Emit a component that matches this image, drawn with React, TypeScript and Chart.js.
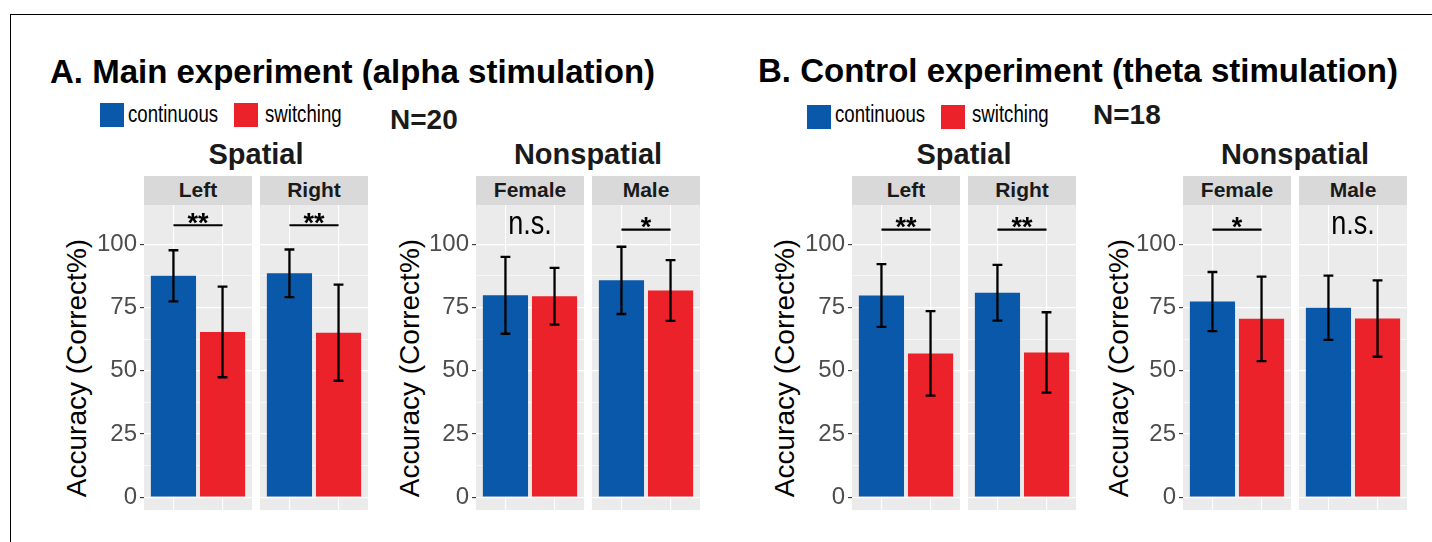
import React, { useEffect, useRef } from "react";
import { Chart, registerables } from "chart.js";

Chart.register(...registerables);

// ---------------- DATA ----------------
const conditions = ["continuous", "switching"];
const spatialFacets = ["Left", "Right"];
const nonspatialFacets = ["Female", "Male"];
const yMajorTicks = [0, 25, 50, 75, 100];
const yMinorTicks = [12.5, 37.5, 62.5, 87.5];

// A. Main experiment (alpha stimulation), N=20
const mainSpatialContinuous = [87.5, 88.5];
const mainSpatialContinuousSD = [10.1, 9.4];
const mainSpatialSwitching = [65.3, 65.0];
const mainSpatialSwitchingSD = [17.9, 19.0];
const mainSpatialSig = ["**", "**"];

const mainNonspatialContinuous = [79.8, 85.7];
const mainNonspatialContinuousSD = [15.2, 13.3];
const mainNonspatialSwitching = [79.4, 81.7];
const mainNonspatialSwitchingSD = [11.2, 12.0];
const mainNonspatialSig = ["n.s.", "*"];

// B. Control experiment (theta stimulation), N=18
const controlSpatialContinuous = [79.7, 80.8];
const controlSpatialContinuousSD = [12.4, 11.0];
const controlSpatialSwitching = [56.8, 57.2];
const controlSpatialSwitchingSD = [16.7, 15.9];
const controlSpatialSig = ["**", "**"];

const controlNonspatialContinuous = [77.3, 74.9];
const controlNonspatialContinuousSD = [11.7, 12.7];
const controlNonspatialSwitching = [70.5, 70.6];
const controlNonspatialSwitchingSD = [16.7, 15.1];
const controlNonspatialSig = ["*", "n.s."];

// ---------------- STYLE / LAYOUT ----------------
const FONT = '"Liberation Sans", Arial, Helvetica, sans-serif';
const BLUE = "#0A58A9";
const RED = "#EB2229";
const PANEL_BG = "#EBEBEB";
const STRIP_BG = "#D9D9D9";
const Y_MIN = -5.1;
const Y_MAX = 115.5;
const X_MIN = 0.4;
const X_MAX = 2.6;
const PANEL_TOP = 205;
const PANEL_BOTTOM = 510;
const PANEL_W = 108;
const PAD_V = 20;
const Y_AXIS_W = 60;
const STRIP_TOP = 176;
const STRIP_H = 29;

type Group = {
  title: string;
  facets: string[];
  cont: number[];
  contSD: number[];
  sw: number[];
  swSD: number[];
  sig: string[];
  panelLefts: number[];
  yTitleCx: number;
  sigLineY: number;
};

const groups: Group[] = [
  {
    title: "Spatial",
    facets: spatialFacets,
    cont: mainSpatialContinuous,
    contSD: mainSpatialContinuousSD,
    sw: mainSpatialSwitching,
    swSD: mainSpatialSwitchingSD,
    sig: mainSpatialSig,
    panelLefts: [144, 260],
    yTitleCx: 79,
    sigLineY: 107.5,
  },
  {
    title: "Nonspatial",
    facets: nonspatialFacets,
    cont: mainNonspatialContinuous,
    contSD: mainNonspatialContinuousSD,
    sw: mainNonspatialSwitching,
    swSD: mainNonspatialSwitchingSD,
    sig: mainNonspatialSig,
    panelLefts: [476, 592],
    yTitleCx: 412.5,
    sigLineY: 105.8,
  },
  {
    title: "Spatial",
    facets: spatialFacets,
    cont: controlSpatialContinuous,
    contSD: controlSpatialContinuousSD,
    sw: controlSpatialSwitching,
    swSD: controlSpatialSwitchingSD,
    sig: controlSpatialSig,
    panelLefts: [852, 968],
    yTitleCx: 787.5,
    sigLineY: 105.8,
  },
  {
    title: "Nonspatial",
    facets: nonspatialFacets,
    cont: controlNonspatialContinuous,
    contSD: controlNonspatialContinuousSD,
    sw: controlNonspatialSwitching,
    swSD: controlNonspatialSwitchingSD,
    sig: controlNonspatialSig,
    panelLefts: [1183, 1299],
    yTitleCx: 1121,
    sigLineY: 105.8,
  },
];

const yGridValues = [...yMajorTicks, ...yMinorTicks].sort((a, b) => a - b);
const isMajor = (v: number) => yMajorTicks.includes(v);

type FacetSpec = {
  key: string;
  left: number;
  width: number;
  first: boolean;
  cont: number;
  contSD: number;
  sw: number;
  swSD: number;
  sig: string;
  sigLineY: number;
};

const facetSpecs: FacetSpec[] = [];
groups.forEach((g, gi) => {
  g.facets.forEach((f, i) => {
    const first = i === 0;
    facetSpecs.push({
      key: `${gi}-${f}`,
      left: g.panelLefts[i] - (first ? Y_AXIS_W : 0),
      width: PANEL_W + (first ? Y_AXIS_W : 0),
      first,
      cont: g.cont[i],
      contSD: g.contSD[i],
      sw: g.sw[i],
      swSD: g.swSD[i],
      sig: g.sig[i],
      sigLineY: g.sigLineY,
    });
  });
});

const panelBgPlugin = {
  id: "panelBg",
  beforeDraw(chart: any) {
    const { ctx, chartArea } = chart;
    ctx.save();
    ctx.fillStyle = PANEL_BG;
    ctx.fillRect(chartArea.left, chartArea.top, chartArea.right - chartArea.left, chartArea.bottom - chartArea.top);
    ctx.restore();
  },
};

function makeAnnotPlugin(sig: string, sigLineY: number) {
  return {
    id: "errAndSig",
    afterDatasetsDraw(chart: any) {
      const { ctx } = chart;
      const x = chart.scales.x;
      const y = chart.scales.y;
      ctx.save();
      ctx.strokeStyle = "#000000";
      ctx.lineWidth = 2.3;
      ctx.lineCap = "butt";
      chart.data.datasets.forEach((ds: any) => {
        const pt = ds.data[0];
        const sd = ds.errorSD as number;
        const px = x.getPixelForValue(pt.x);
        const hw = x.getPixelForValue(pt.x + 0.1) - px;
        const top = y.getPixelForValue(pt.y + sd);
        const bot = y.getPixelForValue(pt.y - sd);
        ctx.beginPath();
        ctx.moveTo(px, top);
        ctx.lineTo(px, bot);
        ctx.moveTo(px - hw, top);
        ctx.lineTo(px + hw, top);
        ctx.moveTo(px - hw, bot);
        ctx.lineTo(px + hw, bot);
        ctx.stroke();
      });
      const x1 = x.getPixelForValue(1);
      const x2 = x.getPixelForValue(2);
      const xm = x.getPixelForValue(1.5);
      const ly = y.getPixelForValue(sigLineY);
      ctx.fillStyle = "#000000";
      ctx.textAlign = "center";
      ctx.textBaseline = "alphabetic";
      if (sig === "n.s.") {
        ctx.font = `33px ${FONT}`;
        ctx.translate(xm, ly + 4);
        ctx.scale(0.82, 1);
        ctx.fillText(sig, 0, 0);
      } else {
        ctx.lineWidth = 2.2;
        ctx.beginPath();
        ctx.moveTo(x1, ly);
        ctx.lineTo(x2, ly);
        ctx.stroke();
        ctx.font = `bold 27px ${FONT}`;
        ctx.fillText(sig, xm, ly + 6.5);
      }
      ctx.restore();
    },
  };
}

function Label(props: {
  x: number;
  baseline: number;
  size: number;
  bold?: boolean;
  align?: "left" | "center";
  scaleX?: number;
  color?: string;
  text: string;
}) {
  const { x, baseline, size, bold, align = "left", scaleX = 1, color = "#000000", text } = props;
  const top = baseline - 0.8465 * size;
  const W = 700;
  const style: React.CSSProperties = {
    position: "absolute",
    top,
    left: align === "center" ? x - W / 2 : x,
    width: align === "center" ? W : undefined,
    textAlign: align,
    fontFamily: FONT,
    fontSize: size,
    lineHeight: `${size}px`,
    fontWeight: bold ? 700 : 400,
    color,
    whiteSpace: "nowrap",
    transform: scaleX !== 1 ? `scaleX(${scaleX})` : undefined,
    transformOrigin: align === "center" ? "center" : "left",
  };
  return <div style={style}>{text}</div>;
}

export default function App() {
  const canvasRefs = useRef<(HTMLCanvasElement | null)[]>([]);

  useEffect(() => {
    const charts: Chart[] = [];
    facetSpecs.forEach((f, idx) => {
      const canvas = canvasRefs.current[idx];
      if (!canvas) return;
      const first = f.first;
      const chart = new Chart(canvas, {
        type: "bar",
        data: {
          datasets: [
            {
              label: conditions[0],
              data: [{ x: 1, y: f.cont }],
              errorSD: f.contSD,
              backgroundColor: BLUE,
              borderWidth: 0,
              grouped: false,
              barPercentage: 0.92,
              categoryPercentage: 1,
            } as any,
            {
              label: conditions[1],
              data: [{ x: 2, y: f.sw }],
              errorSD: f.swSD,
              backgroundColor: RED,
              borderWidth: 0,
              grouped: false,
              barPercentage: 0.92,
              categoryPercentage: 1,
            } as any,
          ],
        },
        options: {
          responsive: false,
          animation: false,
          events: [],
          layout: { padding: { top: PAD_V, bottom: PAD_V, left: 0, right: 0 } },
          plugins: {
            legend: { display: false },
            tooltip: { enabled: false },
            title: { display: false },
          },
          scales: {
            x: {
              type: "linear",
              min: X_MIN,
              max: X_MAX,
              bounds: "data",
              offset: false,
              afterBuildTicks: (s: any) => {
                s.ticks = [{ value: 1 }, { value: 2 }];
              },
              ticks: { display: false },
              grid: { color: "#FFFFFF", lineWidth: 1.1, drawTicks: false, offset: false },
              border: { display: false },
            },
            y: {
              type: "linear",
              min: Y_MIN,
              max: Y_MAX,
              bounds: "data",
              afterBuildTicks: (s: any) => {
                s.ticks = yGridValues.map((v) => ({ value: v }));
              },
              afterFit: (s: any) => {
                s.width = first ? Y_AXIS_W : 0;
              },
              ticks: {
                display: first,
                autoSkip: false,
                padding: 3,
                color: "#4D4D4D",
                font: { family: FONT, size: 24 },
                callback: (v: any) => (isMajor(Number(v)) ? String(v) : ""),
              },
              grid: {
                color: "#FFFFFF",
                lineWidth: (c: any) => (c.tick && isMajor(c.tick.value) ? 1.2 : 0.6),
                drawTicks: first,
                tickLength: 4,
                tickWidth: 1.1,
                tickColor: (c: any) => (c.tick && isMajor(c.tick.value) ? "#333333" : "rgba(0,0,0,0)"),
              },
              border: { display: false },
            },
          },
        } as any,
        plugins: [panelBgPlugin, makeAnnotPlugin(f.sig, f.sigLineY)],
      });
      charts.push(chart);
    });
    return () => charts.forEach((c) => c.destroy());
  }, []);

  const canvasTop = PANEL_TOP - PAD_V;
  const canvasH = PANEL_BOTTOM - PANEL_TOP + 2 * PAD_V;
  const yTitleCy = 368;
  const yTitleSize = 28;

  return (
    <div
      style={{
        position: "absolute",
        left: 0,
        top: 0,
        width: 1432,
        height: 542,
        overflow: "hidden",
        background: "#FFFFFF",
      }}
    >
      <div
        style={{
          position: "absolute",
          left: 10,
          top: 14,
          width: 1440,
          height: 540,
          borderTop: "1px solid #000",
          borderLeft: "1px solid #000",
        }}
      />

      {/* Titles */}
      <Label x={50} baseline={83.3} size={33} bold text="A. Main experiment (alpha stimulation)" />
      <Label x={758} baseline={81.7} size={33} bold text="B. Control experiment (theta stimulation)" />

      {/* Legend A */}
      <div style={{ position: "absolute", left: 100, top: 103, width: 24, height: 24, background: BLUE }} />
      <Label x={128} baseline={122} size={23} scaleX={0.81} text={conditions[0]} />
      <div style={{ position: "absolute", left: 234, top: 103, width: 24, height: 24, background: RED }} />
      <Label x={265} baseline={122} size={23} scaleX={0.81} text={conditions[1]} />
      <Label x={390} baseline={130} size={28} bold color="#1A1A1A" text="N=20" />

      {/* Legend B */}
      <div style={{ position: "absolute", left: 807, top: 105, width: 24, height: 24, background: BLUE }} />
      <Label x={835} baseline={122.5} size={23} scaleX={0.81} text={conditions[0]} />
      <div style={{ position: "absolute", left: 941, top: 105, width: 24, height: 24, background: RED }} />
      <Label x={972} baseline={122.5} size={23} scaleX={0.81} text={conditions[1]} />
      <Label x={1093} baseline={125} size={28} bold color="#1A1A1A" text="N=18" />

      {groups.map((g, gi) => {
        const cx = (g.panelLefts[0] + g.panelLefts[1] + PANEL_W) / 2;
        return (
          <React.Fragment key={`g${gi}`}>
            <Label x={cx} baseline={165} size={29} bold align="center" color="#1A1A1A" text={g.title} />
            {g.facets.map((f, i) => (
              <div
                key={`s${gi}-${i}`}
                style={{
                  position: "absolute",
                  left: g.panelLefts[i],
                  top: STRIP_TOP,
                  width: PANEL_W,
                  height: STRIP_H,
                  background: STRIP_BG,
                }}
              />
            ))}
            {g.facets.map((f, i) => (
              <Label
                key={`st${gi}-${i}`}
                x={g.panelLefts[i] + PANEL_W / 2}
                baseline={196.7}
                size={21}
                bold
                align="center"
                color="#1A1A1A"
                text={f}
              />
            ))}
            <div
              style={{
                position: "absolute",
                left: g.yTitleCx - 2.5 - 200,
                top: yTitleCy - yTitleSize / 2,
                width: 400,
                height: yTitleSize,
                lineHeight: `${yTitleSize}px`,
                fontSize: yTitleSize,
                fontFamily: FONT,
                textAlign: "center",
                whiteSpace: "nowrap",
                color: "#000000",
                transform: "rotate(-90deg)",
                transformOrigin: "center",
              }}
            >
              Accuracy (Correct%)
            </div>
          </React.Fragment>
        );
      })}

      {facetSpecs.map((f, idx) => (
        <canvas
          key={f.key}
          ref={(el) => {
            canvasRefs.current[idx] = el;
          }}
          width={f.width}
          height={canvasH}
          style={{
            position: "absolute",
            left: f.left,
            top: canvasTop,
            width: f.width,
            height: canvasH,
            display: "block",
          }}
        />
      ))}
    </div>
  );
}
